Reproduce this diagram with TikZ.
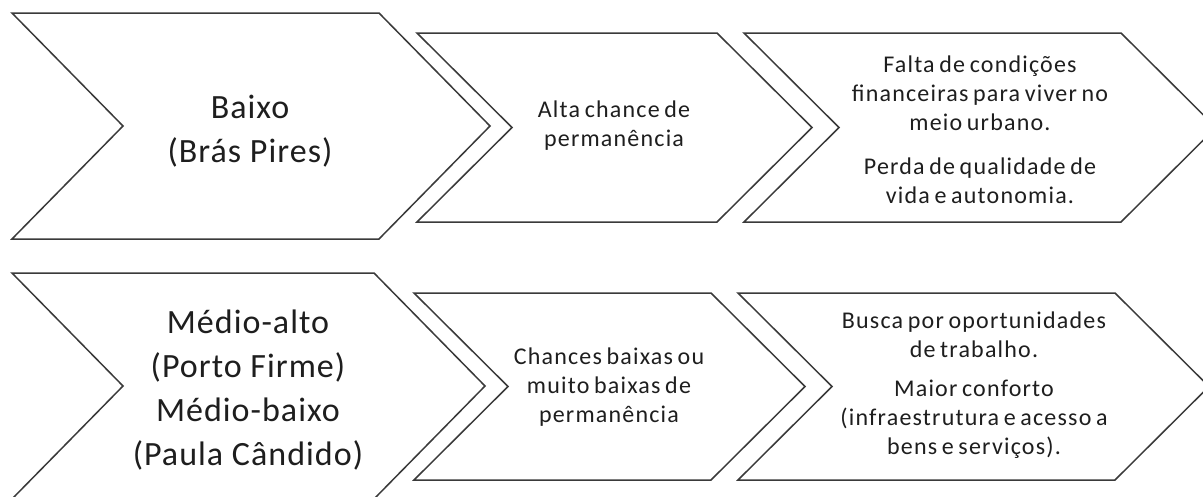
\documentclass[tikz,border=0pt]{standalone}
\usepackage{fontspec}
\setmainfont{Carlito}
\newfontfamily\bigfont[LetterSpace=3]{Carlito}
\newfontfamily\smallfont[LetterSpace=5,WordSpace=0.7]{Carlito}
\definecolor{edge}{HTML}{3A3A3A}
\definecolor{ink}{HTML}{1E1E1E}
\tikzset{
  chev/.style={draw=edge, line width=1.5pt, fill=white, line join=miter},
  bigtext/.style={align=center, inner sep=0pt, text=ink, font=\bigfont\fontsize{34}{44}\selectfont},
  smalltext/.style={align=center, inner sep=0pt, text=ink, font=\smallfont\fontsize{24}{29}\selectfont},
}
\begin{document}
\begin{tikzpicture}[x=1pt,y=-1pt]
\useasboundingbox (0,0) rectangle (1203,496);
\clip (0,0) rectangle (1203,496);
\fill[white] (0,0) rectangle (1203,496);
% top row
\draw[chev] (12,13) -- (379,13) -- (490,126) -- (379,239) -- (12,239) -- (123,126) -- cycle;
\draw[chev] (417,33) -- (717,33) -- (812,127.5) -- (717,222) -- (417,222) -- (512,127.5) -- cycle;
\draw[chev] (744,33) -- (1121,33) -- (1216,127.5) -- (1121,222) -- (744,222) -- (839,127.5) -- cycle;
% bottom row
\draw[chev] (12,273) -- (374,273) -- (485,386) -- (374,499) -- (12,499) -- (123,386) -- cycle;
\draw[chev] (414,293) -- (711,293) -- (805,386.5) -- (711,480) -- (414,480) -- (508,386.5) -- cycle;
\draw[chev] (738,293) -- (1115,293) -- (1209,386.5) -- (1115,480) -- (738,480) -- (832,386.5) -- cycle;
% texts
\node[bigtext] (t1) at (250,131) {Baixo\\(Brás Pires)};
\node[smalltext] (t2) at (614,126) {Alta chance de\\permanência};
\node[smalltext] (t3) at (980,130) {Falta de condições\\financeiras para viver no\\meio urbano.\\[15pt]Perda de qualidade de\\vida e autonomia.};
\node[bigtext] (b1) at (248,390) {Médio-alto\\(Porto Firme)\\Médio-baixo\\(Paula Cândido)};
\node[smalltext] (b2) at (609,387) {Chances baixas ou\\muito baixas de\\permanência};
\node[smalltext] (b3) at (974,385) {Busca por oportunidades\\de trabalho.\\[10pt]Maior conforto\\(infraestrutura e acesso a\\bens e serviços).};
\end{tikzpicture}
\end{document}
